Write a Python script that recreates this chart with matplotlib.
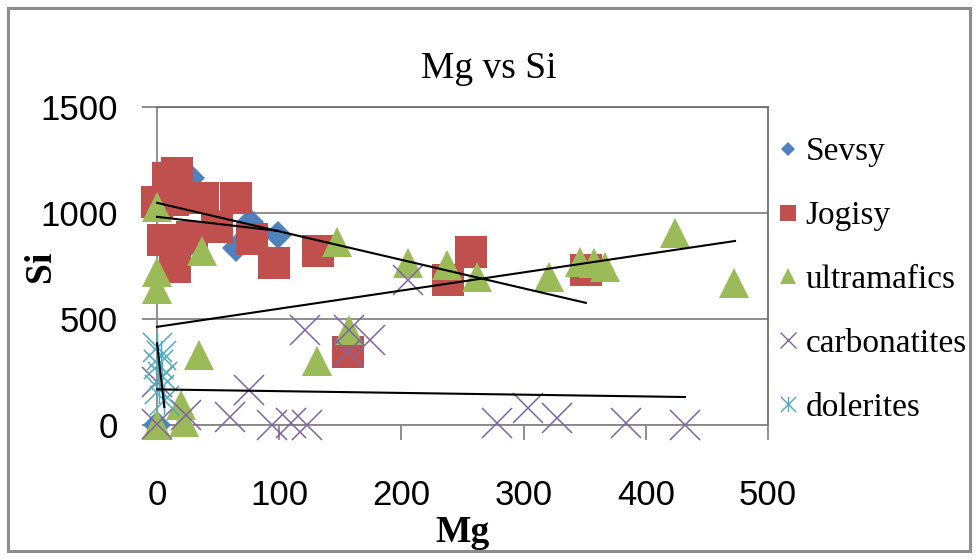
import matplotlib
matplotlib.use('Agg')
import matplotlib.pyplot as plt
from matplotlib.lines import Line2D
from matplotlib.path import Path
from matplotlib.patches import Rectangle

# ---------------- data ----------------
series_names = ['Sevsy', 'Jogisy', 'ultramafics', 'carbonatites', 'dolerites']

sevsy_mg = [0, 28, 23, 23, 65, 76, 99]
sevsy_si = [0, 1166, 1085, 835, 835, 958, 897]

jogisy_mg = [0, 16, 9, 13, 38, 65, 49, 5, 29, 15, 78, 96, 132, 156, 238, 257, 351]
jogisy_si = [1050, 1190, 1165, 1062, 1071, 1071, 935, 873, 887, 746, 878, 765, 821, 345, 684, 817, 732]

ultra_mg = [0, 37, 0, 0, 147, 205, 237, 262, 321, 346, 358, 367, 424, 472, 34, 131, 157, 20, 0, 22]
ultra_si = [1030, 821, 722, 640, 864, 765, 755, 700, 698, 770, 763, 747, 905, 670, 330, 302, 448, 94, 0, 15]

carb_mg = [121, 157, 174, 156, 205, 75, 60, 94, 110, 123, 24, 0, 0, 278, 304, 327, 384, 432]
carb_si = [448, 448, 401, 345, 684, 165, 38, 0, 9, 0, 47, 203, 5, 10, 80, 33, 9, 0]

dol_mg = [0, 3, 1, 4, 2, 6]
dol_si = [370, 330, 290, 230, 170, 120]

# linear trendlines (endpoints)
trend_mg_start = [0, 0, 0, 0, 0]
trend_mg_end = [100, 351, 473, 432, 6]
trend_si_start = [982, 1048, 463, 168, 387]
trend_si_end = [915, 576, 868, 132, 85]

x_ticks = [0, 100, 200, 300, 400, 500]
y_ticks = [0, 500, 1000, 1500]

# ---------------- style ----------------
c_blue = '#4F81BD'
c_red = '#C0504D'
c_green = '#9BBB59'
c_purple = '#8064A2'
c_aqua = '#4BACC6'
grid_c = '#868686'

star_path = Path([(-0.5, -0.5), (0.5, 0.5), (-0.5, 0.5), (0.5, -0.5), (0, -0.5), (0, 0.5)],
                 [Path.MOVETO, Path.LINETO, Path.MOVETO, Path.LINETO, Path.MOVETO, Path.LINETO])

W, H = 977, 559
fig = plt.figure(figsize=(W / 100, H / 100), dpi=100)
fig.patch.set_facecolor('white')

# chart area border
fig.patches.append(Rectangle((8 / W, 8 / H), 962 / W, 543 / H, transform=fig.transFigure,
                             fill=False, edgecolor='#8c8c8c', linewidth=2.2))

ax = fig.add_axes([157 / W, (H - 425) / H, 611 / W, 318 / H])
ax.set_xlim(0, 500)
ax.set_ylim(0, 1500)

ax.plot(sevsy_mg, sevsy_si, linestyle='none', marker='D', markersize=14.5,
        markerfacecolor=c_blue, markeredgewidth=0, clip_on=False, zorder=3)
ax.plot(jogisy_mg, jogisy_si, linestyle='none', marker='s', markersize=22.5,
        markerfacecolor=c_red, markeredgewidth=0, clip_on=False, zorder=3)
ax.plot(ultra_mg, ultra_si, linestyle='none', marker='^', markersize=21,
        markerfacecolor=c_green, markeredgewidth=0, clip_on=False, zorder=3)
ax.plot(carb_mg, carb_si, linestyle='none', marker='x', markersize=21,
        markeredgecolor=c_purple, markeredgewidth=1.1, clip_on=False, zorder=3)
ax.plot(dol_mg, dol_si, linestyle='none', marker=star_path, markersize=21,
        markeredgecolor=c_aqua, markerfacecolor='none', markeredgewidth=1.1, clip_on=False, zorder=3)

for x0, x1, y0, y1 in zip(trend_mg_start, trend_mg_end, trend_si_start, trend_si_end):
    ax.plot([x0, x1], [y0, y1], color='black', linewidth=1.5, zorder=4, clip_on=False)

ax.set_xticks(x_ticks)
ax.set_yticks(y_ticks)
ax.grid(axis='y', color=grid_c, linewidth=1.3, zorder=0)
ax.grid(axis='x', visible=False)
ax.set_axisbelow(True)
for s in ['left', 'bottom']:
    ax.spines[s].set_color(grid_c)
    ax.spines[s].set_linewidth(1.3)
ax.spines['top'].set_color('#6e6e6e')
ax.spines['top'].set_linewidth(1.3)
ax.spines['right'].set_color('#6e6e6e')
ax.spines['right'].set_linewidth(1.3)
ax.tick_params(axis='both', direction='out', length=11, width=1.3, color=grid_c,
               labelsize=25, labelcolor='black')
ax.tick_params(axis='x', pad=28)
ax.tick_params(axis='y', pad=17)
for lab in ax.get_xticklabels() + ax.get_yticklabels():
    lab.set_fontfamily('Liberation Sans')

# titles
fig.text(489 / W, 1 - 78 / H, 'Mg vs Si', ha='center', va='baseline',
         fontfamily='Liberation Serif', fontsize=27)
fig.text(462 / W, 1 - 542 / H, 'Mg', ha='center', va='baseline',
         fontfamily='Liberation Serif', fontweight='bold', fontsize=27)
fig.text(40 / W, 1 - 266 / H, 'Si', ha='center', va='center', rotation=90,
         fontfamily='Liberation Serif', fontweight='bold', fontsize=27)

# legend
handles = [
    Line2D([], [], linestyle='none', marker='D', markersize=7, markerfacecolor=c_blue, markeredgewidth=0),
    Line2D([], [], linestyle='none', marker='s', markersize=11, markerfacecolor=c_red, markeredgewidth=0),
    Line2D([], [], linestyle='none', marker='^', markersize=11, markerfacecolor=c_green, markeredgewidth=0),
    Line2D([], [], linestyle='none', marker='x', markersize=11, markeredgecolor=c_purple, markeredgewidth=1.0),
    Line2D([], [], linestyle='none', marker=star_path, markersize=11, markeredgecolor=c_aqua,
           markerfacecolor='none', markeredgewidth=1.0),
]
fig.legend(handles, series_names, loc='upper left', bbox_to_anchor=(779 / W, 1 - 137 / H),
           frameon=False, prop={'family': 'Liberation Serif', 'size': 24},
           handlelength=0.55, handletextpad=0.25, labelspacing=1.0, borderaxespad=0, borderpad=0)

fig.savefig('out.png', dpi=100, facecolor='white')
